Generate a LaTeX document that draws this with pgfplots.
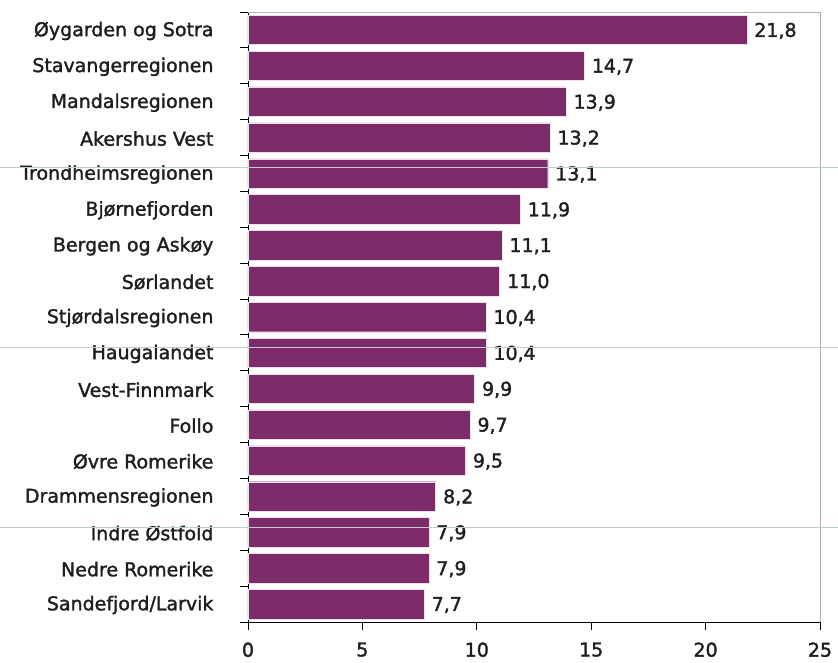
\documentclass[border=0pt]{standalone}
\usepackage{pgfplots}
\pgfplotsset{compat=1.18}
\usepackage{fontspec}
\setmainfont{DejaVu Sans}[FakeBold=1.6]
\definecolor{barc}{RGB}{125,42,106}
\definecolor{txt}{RGB}{30,30,30}
\definecolor{artl}{RGB}{190,205,212}
\begin{document}
\fontsize{19bp}{21bp}\selectfont
\begin{tikzpicture}[x=1bp,y=1bp]
\useasboundingbox (-248bp,-41bp) rectangle (590bp,622bp);
\begin{axis}[
  scale only axis,
  width=572bp, height=610bp,
  xmin=0, xmax=25,
  ymin=-0.5, ymax=16.5,
  y dir=reverse,
  xbar, bar width=0.82,
  bar shift=0pt,
  axis x line*=bottom, axis y line*=left,
  axis line style={black, line width=0.9bp},
  xtick={0,5,10,15,20,25},
  ytick={0,...,16},
  yticklabels={Øygarden og Sotra,Stavangerregionen,Mandalsregionen,Akershus Vest,Trondheimsregionen,Bjørnefjorden,Bergen og Askøy,Sørlandet,Stjørdalsregionen,Haugalandet,Vest-Finnmark,Follo,Øvre Romerike,Drammensregionen,Indre Østfold,Nedre Romerike,Sandefjord/Larvik},
  minor ytick={-0.5,0.5,...,16.5},
  major y tick style={draw=none},
  tick align=outside,
  major tick length=8bp, minor tick length=8bp,
  tick style={black, line width=0.9bp},
  x tick label style={yshift=-6bp},
  y tick label style={xshift=-20bp, yshift=-1bp},
  ticklabel style={text=txt, font=\fontsize{19bp}{21bp}\selectfont},
  /pgf/number format/assume math mode=true,
  nodes near coords,
  nodes near coords style={text=txt, anchor=west, xshift=1bp, yshift=-1bp, font=\fontsize{19bp}{21bp}\selectfont,
    /pgf/number format/.cd, fixed, fixed zerofill, precision=1, use comma, assume math mode=true},
  clip=false,
]
\addplot[fill=barc, draw=white!85!barc, line width=0.4bp] coordinates {
(21.8,0) (14.7,1) (13.9,2) (13.2,3) (13.1,4) (11.9,5) (11.1,6) (11.0,7) (10.4,8) (10.4,9) (9.9,10) (9.7,11) (9.5,12) (8.2,13) (7.9,14) (7.9,15) (7.7,16)
};
\draw[gray!60, line width=1bp] (axis cs:0,-0.5) -- (axis cs:25,-0.5) -- (axis cs:25,16.5);
\end{axis}
\draw[artl, line width=0.6bp] (-248bp,455bp) -- (590bp,455bp);
\draw[artl, line width=0.6bp] (-248bp,275bp) -- (590bp,275bp);
\draw[artl, line width=0.6bp] (-248bp,95bp) -- (590bp,95bp);
\end{tikzpicture}
\end{document}
